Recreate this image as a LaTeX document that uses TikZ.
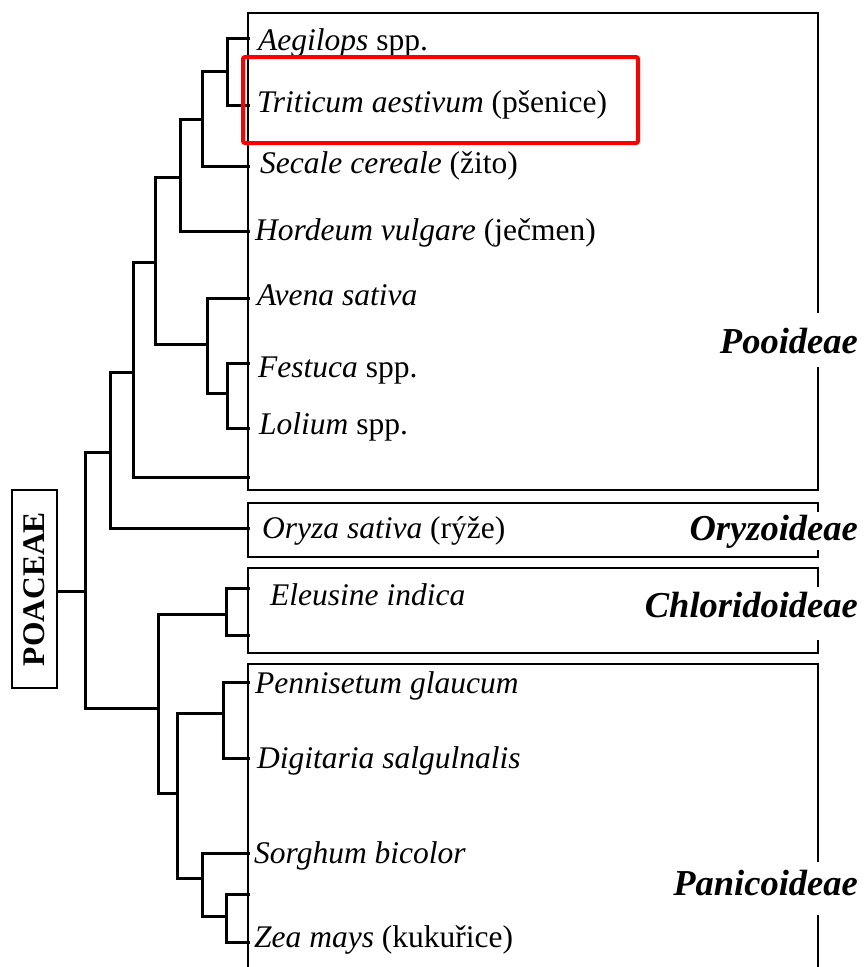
\documentclass[tikz,border=0pt]{standalone}
\usepackage{fontspec}
\setmainfont{Liberation Serif}
\begin{document}
\begin{tikzpicture}[x=1pt,y=-1pt,
  branch/.style={line width=3pt, line cap=rect, line join=miter},
  boxline/.style={line width=2.2pt},
  leaf/.style={anchor=base west, inner sep=0pt, font=\fontsize{31.5pt}{36pt}\selectfont},
  sublabel/.style={anchor=base east, fill=white, inner xsep=1pt, inner ysep=0pt,
    font=\fontsize{36.5pt}{40pt}\selectfont\bfseries\itshape},
  familybox/.style={draw, line width=2.8pt, rotate=90, minimum width=198pt, minimum height=45pt,
    inner sep=0pt, font=\fontsize{31.5pt}{34pt}\selectfont\bfseries},
  highlight/.style={draw=red, line width=4pt, rounded corners=2pt}]
\useasboundingbox (0,0) rectangle (864,967);
% subfamily boxes
\draw[boxline] (248,13) rectangle (818,490);
\draw[boxline] (248,503) rectangle (818,557);
\draw[boxline] (248,568) rectangle (818,653);
\draw[boxline] (248,967) |- (818,664) -- (818,967);
% leaves
\foreach \n/\y in {1/38,2/105,3/166,4/231,5/298,6/363,7/428,8/477,9/528,10/588,11/635,12/682,13/758,14/853,15/894,16/942}
  \coordinate (l\n) at (248,\y);
% internal nodes
\coordinate (nA) at (227,71);
\coordinate (nB) at (202,119);
\coordinate (nC) at (180,177);
\coordinate (nD) at (155,262);
\coordinate (nE) at (207,344);
\coordinate (nFL) at (227,393);
\coordinate (nF) at (133,372);
\coordinate (nG) at (110,452);
\coordinate (root) at (85,591);
\coordinate (nH) at (158,708);
\coordinate (nEl) at (226,614);
\coordinate (nI) at (177,793);
\coordinate (nPD) at (223,713);
\coordinate (nJ) at (202,878);
\coordinate (nZ) at (226,916);
\foreach \p/\c in {nA/l1,nA/l2,nB/nA,nB/l3,nC/nB,nC/l4,nD/nC,nD/nE,nE/l5,nE/nFL,nFL/l6,nFL/l7,
  nF/nD,nF/l8,nG/nF,nG/l9,root/nG,root/nH,nH/nEl,nH/nI,nEl/l10,nEl/l11,nI/nPD,nI/nJ,
  nPD/l12,nPD/l13,nJ/l14,nJ/nZ,nZ/l15,nZ/l16}
  \draw[branch] (\p) |- (\c);
% family box
\node[familybox] (poa) at (34.5,589) {POACEAE};
\draw[branch] (root) -- (root -| poa.south);
% species labels
\node[leaf] (tAeg) at (258,50) {\textit{Aegilops} spp.};
\node[leaf] (tTri) at (257,112) {\textit{Triticum aestivum} (pšenice)};
\node[leaf] (tSec) at (260,173) {\textit{Secale cereale} (žito)};
\node[leaf] (tHor) at (255,240) {\textit{Hordeum vulgare} (ječmen)};
\node[leaf] (tAve) at (257,305) {\textit{Avena sativa}};
\node[leaf] (tFes) at (258,377) {\textit{Festuca} spp.};
\node[leaf] (tLol) at (259,434) {\textit{Lolium} spp.};
\node[leaf] (tOry) at (262,538) {\textit{Oryza sativa} (rýže)};
\node[leaf] (tEle) at (270,605) {\textit{Eleusine indica}};
\node[leaf] (tPen) at (255,693) {\textit{Pennisetum glaucum}};
\node[leaf] (tDig) at (257,768) {\textit{Digitaria salgulnalis}};
\node[leaf] (tSor) at (254,863) {\textit{Sorghum bicolor}};
\node[leaf] (tZea) at (254,947) {\textit{Zea mays} (kukuřice)};
% subfamily labels
\node[sublabel, text height=40pt, text depth=14pt] (sPoo) at (859,353) {Pooideae};
\node[sublabel, text height=28pt, text depth=10pt] (sOry) at (859,540) {Oryzoideae};
\node[sublabel, text height=30pt, text depth=23pt] (sChl) at (859,617) {Chloridoideae};
\node[sublabel, text height=33pt, text depth=20pt] (sPan) at (859,895) {Panicoideae};
% highlight
\draw[highlight] (243,57) rectangle (638,143);
\end{tikzpicture}
\end{document}
